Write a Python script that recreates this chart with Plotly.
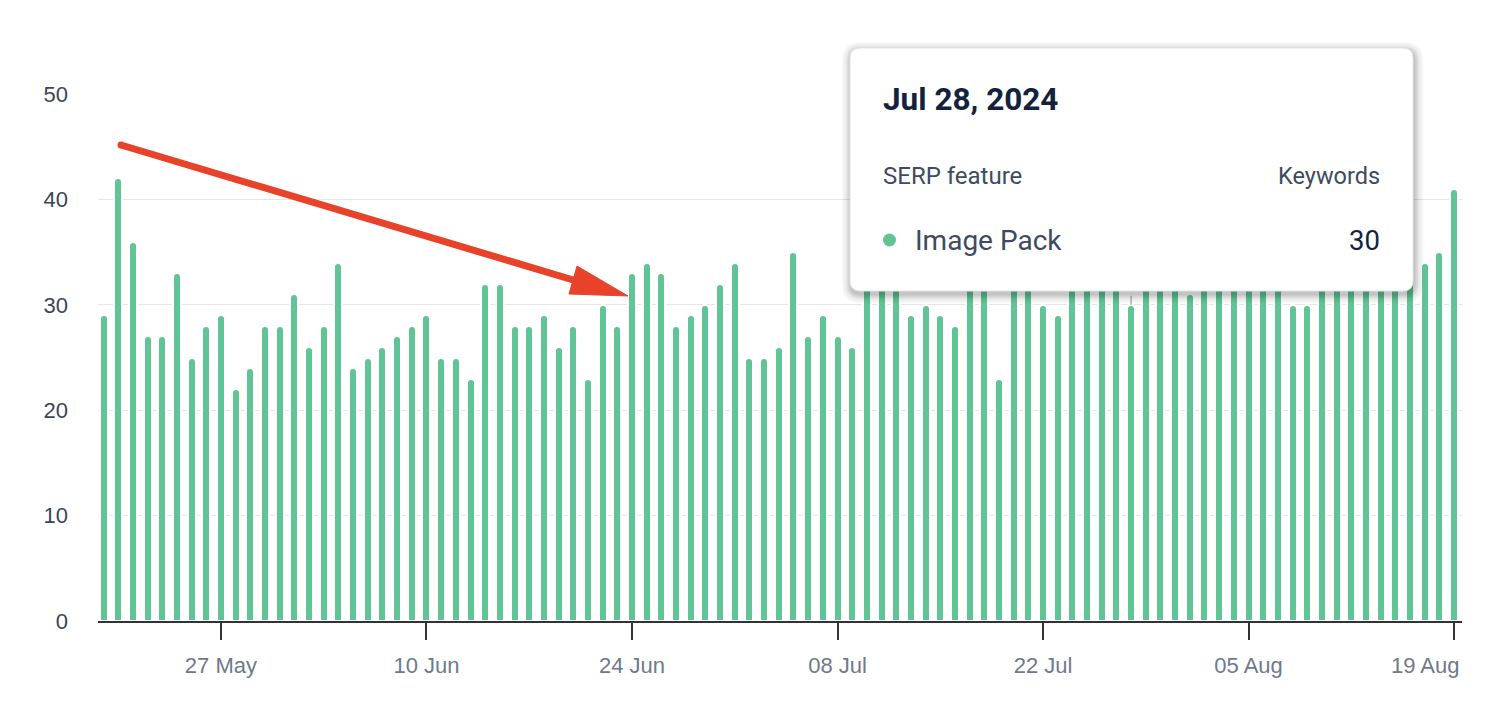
import plotly.graph_objects as go
import pandas as pd

# ---------------- data ----------------
start_date = "2024-05-19"
keywords = [
    29, 42, 36, 27, 27, 33, 25, 28, 29, 22, 24, 28, 28,          # May 19-31
    31, 26, 28, 34, 24, 25, 26, 27, 28, 29, 25, 25, 23, 32, 32,  # Jun 1-15
    28, 28, 29, 26, 28, 23, 30, 28, 33, 34, 33, 28, 29, 30, 32,  # Jun 16-30
    34, 25, 25, 26, 35, 27, 29, 27, 26, 33, 34, 32, 29, 30, 29,  # Jul 1-15
    28, 35, 33, 23, 34, 36, 30, 29, 33, 35, 34, 32, 30, 36, 34,  # Jul 16-30
    33, 31, 34, 35, 33, 36, 34, 32, 30, 30, 33, 35, 34, 36, 33,  # Jul 31-Aug 14
    35, 33, 34, 35, 41,                                          # Aug 15-19
]
dates = pd.date_range(start_date, periods=len(keywords), freq="D")

tick_dates = ["2024-05-27", "2024-06-10", "2024-06-24", "2024-07-08",
              "2024-07-22", "2024-08-05", "2024-08-19"]
tick_labels = ["27 May", "10 Jun", "24 Jun", "08 Jul", "22 Jul", "05 Aug", "19 Aug"]
y_ticks = [0, 10, 20, 30, 40, 50]

tooltip_date = "Jul 28, 2024"
tooltip_series = "Image Pack"
tooltip_value = 30
hover_day = "2024-07-28"

# ---------------- layout constants (page pixels) ----------------
PAGE_W, PAGE_H = 1504, 726
BODY_MARGIN = 8                      # default browser body margin
W, H = PAGE_W - 2 * BODY_MARGIN, PAGE_H - 2 * BODY_MARGIN
L, R, T, B = 98, 1462, 94, 621       # plot area in page pixels
BAR_GREEN = "#60c496"
AX_FONT = "Liberation Sans, Arial, Helvetica, sans-serif"
TT_FONT = "Roboto, Arial, sans-serif"


def px(x):
    return (x - L) / (R - L)


def py(y):
    return (B - y) / (B - T)


def rounded_rect_path(x0, y0, x1, y1, r):
    pts = [
        ("M", (x0 + r, y0)), ("L", (x1 - r, y0)), ("Q", (x1, y0), (x1, y0 + r)),
        ("L", (x1, y1 - r)), ("Q", (x1, y1), (x1 - r, y1)),
        ("L", (x0 + r, y1)), ("Q", (x0, y1), (x0, y1 - r)),
        ("L", (x0, y0 + r)), ("Q", (x0, y0), (x0 + r, y0)),
    ]
    s = ""
    for item in pts:
        cmd = item[0]
        coords = " ".join(f"{px(a):.5f},{py(b):.5f}" for a, b in item[1:])
        s += f"{cmd}{coords} "
    return s + "Z"


day_ms = 86400000
bar_px = 8
x_range = ["2024-05-18 15:00", "2024-08-19 13:00"]
px_per_day = (R - L) / ((pd.Timestamp(x_range[1]) - pd.Timestamp(x_range[0])).total_seconds() / 86400)

fig = go.Figure()
fig.add_trace(go.Bar(
    x=dates, y=keywords,
    width=bar_px / px_per_day * day_ms,
    marker=dict(color=BAR_GREEN, line=dict(color="white", width=2)),
    hoverinfo="skip",
))

shapes = []
# hover crosshair
shapes.append(dict(type="line", xref="x", yref="y", x0=hover_day, x1=hover_day,
                   y0=tooltip_value, y1=50, line=dict(color="#b5b5b5", width=1.5, dash="dash"),
                   layer="above"))

# tooltip shadow + box
tx0, ty0, tx1, ty1 = 850, 48, 1413, 291
for e in [9, 7, 5, 4, 3, 2, 1]:
    shapes.append(dict(type="path", xref="paper", yref="paper",
                       path=rounded_rect_path(tx0 - e + 1, ty0 - e + 3, tx1 + e + 1, ty1 + e + 3, 10 + e),
                       fillcolor="rgba(0,0,0,0.035)", line=dict(width=0), layer="above"))
shapes.append(dict(type="path", xref="paper", yref="paper",
                   path=rounded_rect_path(tx0, ty0, tx1, ty1, 10),
                   fillcolor="white", line=dict(color="#e4e4e4", width=1), layer="above"))
# legend dot in tooltip
shapes.append(dict(type="circle", xref="paper", yref="paper",
                   x0=px(883), x1=px(896), y0=py(233.5), y1=py(246.5),
                   fillcolor=BAR_GREEN, line=dict(width=0), layer="above"))

# red arrow
ARROW = "#e8422a"
ax0, ay0 = 121, 145
tipx, tipy = 628, 296
shapes.append(dict(type="line", xref="paper", yref="paper",
                   x0=px(ax0), y0=py(ay0), x1=px(585), y1=py(283.5),
                   line=dict(color=ARROW, width=7), layer="above"))
shapes.append(dict(type="circle", xref="paper", yref="paper",
                   x0=px(ax0 - 3.5), x1=px(ax0 + 3.5), y0=py(ay0 - 3.5), y1=py(ay0 + 3.5),
                   fillcolor=ARROW, line=dict(width=0), layer="above"))
shapes.append(dict(type="path", xref="paper", yref="paper",
                   path=(f"M{px(tipx):.5f},{py(tipy):.5f} L{px(577):.5f},{py(266):.5f} "
                         f"L{px(569):.5f},{py(294):.5f} Z"),
                   fillcolor=ARROW, line=dict(color=ARROW, width=1), layer="above"))

annotations = [
    dict(text=f"<b>{tooltip_date}</b>", xref="paper", yref="paper", x=px(881), y=py(100),
         xanchor="left", yanchor="middle", showarrow=False,
         font=dict(family=TT_FONT, size=31.5, color="#14233c")),
    dict(text="SERP feature", xref="paper", yref="paper", x=px(881), y=py(176),
         xanchor="left", yanchor="middle", showarrow=False,
         font=dict(family=TT_FONT, size=24, color="#3e4b5f")),
    dict(text="Keywords", xref="paper", yref="paper", x=px(1382), y=py(176),
         xanchor="right", yanchor="middle", showarrow=False,
         font=dict(family=TT_FONT, size=23.5, color="#3e4b5f")),
    dict(text=tooltip_series, xref="paper", yref="paper", x=px(913), y=py(240),
         xanchor="left", yanchor="middle", showarrow=False,
         font=dict(family=TT_FONT, size=28, color="#3e4b5f")),
    dict(text=str(tooltip_value), xref="paper", yref="paper", x=px(1382), y=py(240),
         xanchor="right", yanchor="middle", showarrow=False,
         font=dict(family=TT_FONT, size=27.5, color="#14233c")),
    # last x tick label, justified inside the plot like the reference
    dict(text=tick_labels[-1], xref="paper", yref="paper", x=1.0, y=py(665),
         xanchor="right", yanchor="middle", showarrow=False,
         font=dict(family=AX_FONT, size=22, color="#6e7a8a")),
]

fig.update_layout(
    width=W, height=H,
    margin=dict(l=L - BODY_MARGIN, r=W - (R - BODY_MARGIN),
                t=T - BODY_MARGIN, b=H - (B - BODY_MARGIN), pad=0),
    paper_bgcolor="white", plot_bgcolor="white",
    showlegend=False,
    barcornerradius=4,
    bargap=0,
    shapes=shapes,
    annotations=annotations,
    xaxis=dict(
        type="date",
        range=x_range,
        tickvals=tick_dates,
        ticktext=tick_labels[:-1] + [""],
        ticks="outside", ticklen=17, tickwidth=2, tickcolor="#333333",
        showline=True, linecolor="#333333", linewidth=2,
        showgrid=False, zeroline=False,
        tickfont=dict(family=AX_FONT, size=22, color="#6e7a8a"),
        ticklabelstandoff=7,
    ),
    yaxis=dict(
        range=[0, 50],
        tickvals=y_ticks,
        showgrid=True, gridcolor="#e6e6e6", gridwidth=1,
        zeroline=False, showline=False, ticks="",
        tickfont=dict(family=AX_FONT, size=22, color="#3b4658"),
        ticklabelstandoff=29,
    ),
)

fig.write_html("out.html")
